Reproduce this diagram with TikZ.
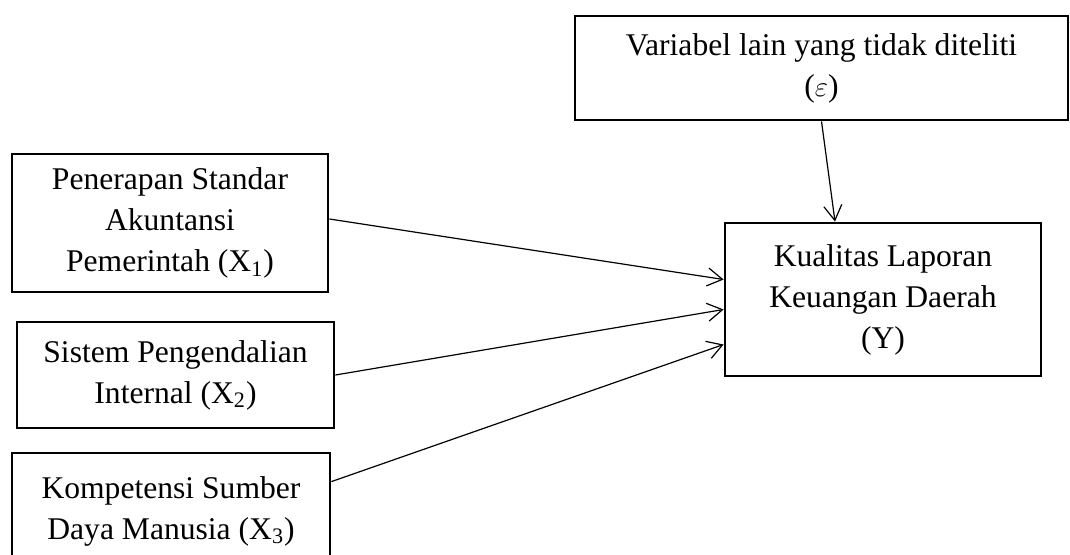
\documentclass[tikz,border=0pt]{standalone}
\usepackage{fontspec}
\setmainfont{Liberation Serif}
\usetikzlibrary{calc, arrows.meta}

\begin{document}
\begin{tikzpicture}[
  x=0.5pt, y=-0.5pt,
  font=\fontsize{15.8}{20.5}\selectfont,
  arrow/.style={-{Straight Barb[length=7.5pt, width=9pt]}, line width=0.6pt},
  box/.style={draw, line width=1.4pt, align=center, inner sep=0pt},
]
\useasboundingbox (0,0) rectangle (1070,555);

% --- Boxes ---
\node[box, minimum width=246.5pt, minimum height=52pt] (eps) at (821.5,68)
  {Variabel lain yang tidak diteliti\\(\ensuremath{\varepsilon})};
\node[box, minimum width=158pt, minimum height=69pt] (x1) at (170,223)
  {Penerapan Standar\\Akuntansi\\Pemerintah (X\textsubscript{1})};
\node[box, minimum width=158.5pt, minimum height=53pt] (x2) at (175.5,375)
  {Sistem Pengendalian\\Internal (X\textsubscript{2})};
\node[box, minimum width=159pt, minimum height=58pt] (x3) at (171,511)
  {Kompetensi Sumber\\Daya Manusia (X\textsubscript{3})};
\node[box, minimum width=158pt, minimum height=76.5pt] (y) at (883,299.5)
  {Kualitas Laporan\\Keuangan Daerah\\(Y)};

% --- Arrows into Y ---
\draw[arrow] ($(x1.east)+(0,-4)$) -- ($(y.west)+(0,-20)$);
\draw[arrow] (x2.east) -- ($(y.west)+(0,10)$);
\draw[arrow] ($(x3.north east)+(0,30)$) -- ($(y.west)+(0,45)$);
\draw[arrow] (eps.south) -- ($(y.north)+(-48,0)$);

\end{tikzpicture}
\end{document}
